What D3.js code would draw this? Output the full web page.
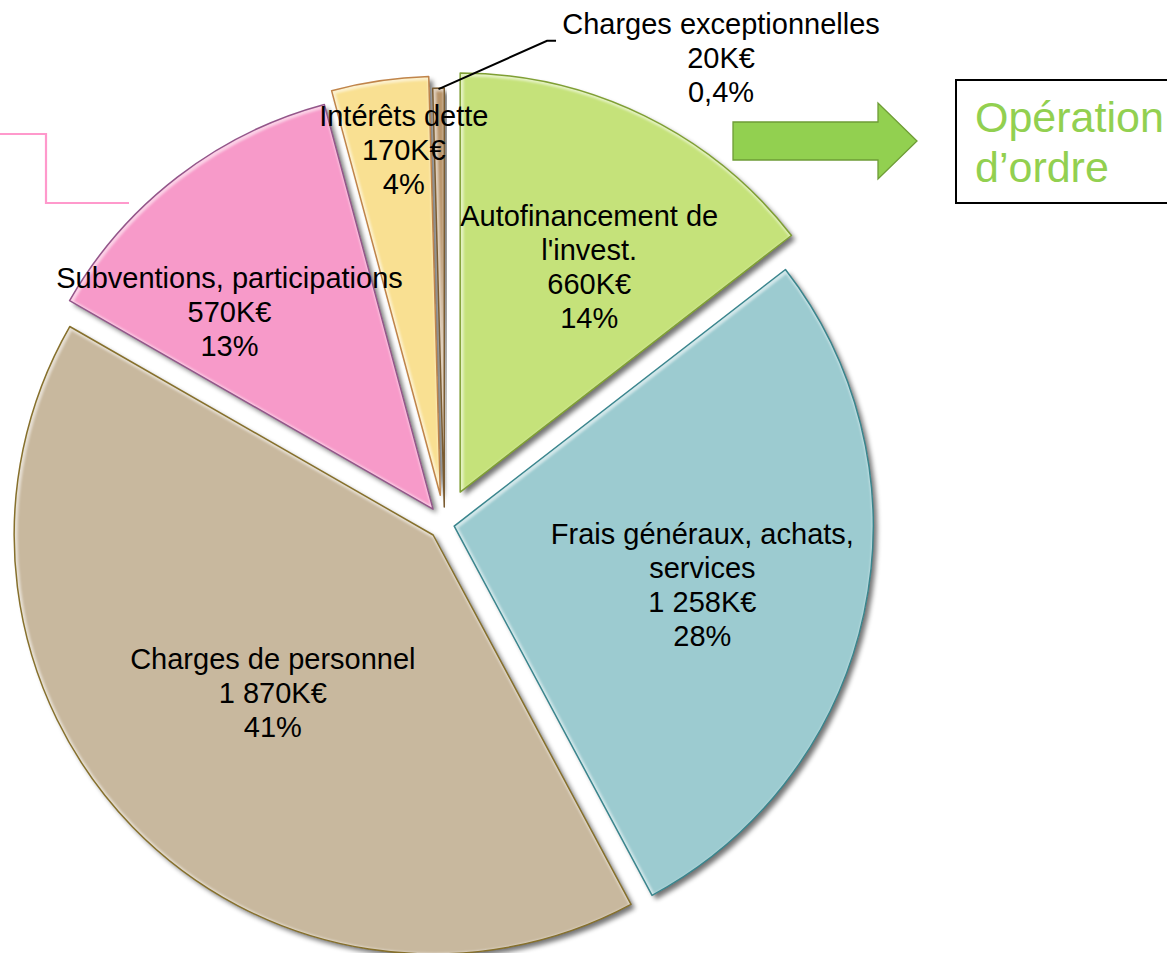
<!DOCTYPE html>
<html><head><meta charset="utf-8">
<script src="https://cdn.jsdelivr.net/npm/d3@7"></script>
<style>body{margin:0;background:#fff;overflow:hidden} svg{display:block;font-family:"Liberation Sans",Arial,Helvetica,sans-serif;}</style>
</head><body><svg id="c" width="1167" height="953"></svg>
<script>
// ---- data ----
const categories = ["Autofinancement de l'invest.", "Frais généraux, achats, services", "Charges de personnel", "Subventions, participations", "Intérêts dette", "Charges exceptionnelles"];
const values = [660, 1258, 1870, 570, 170, 20];
const valueLabels = ["660K€", "1 258K€", "1 870K€", "570K€", "170K€", "20K€"];
const percentLabels = ["14%", "28%", "41%", "13%", "4%", "0,4%"];
const labelLines = [["Autofinancement de", "l'invest."], ["Frais généraux, achats,", "services"], ["Charges de personnel"], ["Subventions, participations"], ["Intérêts dette"], ["Charges exceptionnelles"]];
const sideNote = ["Opération", "d’ordre"];

// ---- style / layout ----
const fills = ["#c5e27a", "#9ccbd0", "#c8b89e", "#f79ac9", "#f9e092", "#b8946a"];
const strokes = ["#7f9f34", "#3a858d", "#86702c", "#93568a", "#c0844a", "#7a5c32"];
const explode = [35.6, 9.9, 15.8, 18.8, 29, 17];
const labelRadius = [295, 265, 241, 302, 376, 542];
const labelAngleShift = [3.25, 1.3, -0.4, -7.8, 2.1, 31.47];
const W = 1167, H = 953, cx = 444.5, cy = 524, R = 419;
const fontSize = 29, lineH = 34;

const svg = d3.select("#c");
const defs = svg.append("defs");
const f = defs.append("filter").attr("id", "sh").attr("x", "-20%").attr("y", "-20%").attr("width", "140%").attr("height", "140%");
f.append("feGaussianBlur").attr("in", "SourceAlpha").attr("stdDeviation", 2.6).attr("result", "b");
f.append("feOffset").attr("in", "b").attr("dx", 4).attr("dy", 4).attr("result", "o");
f.append("feComponentTransfer").attr("in", "o").attr("result", "t").append("feFuncA").attr("type", "linear").attr("slope", 0.55);
const m = f.append("feMerge"); m.append("feMergeNode").attr("in", "t"); m.append("feMergeNode").attr("in", "SourceGraphic");
const fb = defs.append("filter").attr("id", "bl"); fb.append("feGaussianBlur").attr("stdDeviation", 1.1);

const pie = d3.pie().sort(null).value(d => d).startAngle(0).endAngle(2 * Math.PI);
const arcs = pie(values);
const arc = d3.arc().innerRadius(0).outerRadius(R);
const polar = (a, r) => [Math.sin(a) * r, -Math.cos(a) * r];

const g = svg.append("g").attr("transform", `translate(${cx},${cy})`);
arcs.forEach((a, i) => {
  const mid = (a.startAngle + a.endAngle) / 2;
  const [ox, oy] = polar(mid, explode[i]);
  const sg = g.append("g").attr("transform", `translate(${ox},${oy})`);
  const dPath = arc(a);
  defs.append("clipPath").attr("id", "cp" + i).append("path").attr("d", dPath).attr("transform", `translate(${cx + ox},${cy + oy})`);
  sg.append("path").attr("d", dPath).attr("fill", fills[i]).attr("filter", "url(#sh)");
  // bevel highlight
  svg.append("g").attr("clip-path", `url(#cp${i})`)
    .append("path").attr("d", dPath).attr("transform", `translate(${cx + ox + 1.2},${cy + oy + 1.2})`)
    .attr("fill", "none").attr("stroke", "#fff").attr("stroke-opacity", 0.55).attr("stroke-width", 4.5).attr("filter", "url(#bl)");
  svg.append("path").attr("d", dPath).attr("transform", `translate(${cx + ox},${cy + oy})`)
    .attr("fill", "none").attr("stroke", strokes[i]).attr("stroke-width", 1.5).attr("stroke-linejoin", "round");
});

// labels
const lg = svg.append("g").attr("transform", `translate(${cx},${cy})`);
arcs.forEach((a, i) => {
  const mid = (a.startAngle + a.endAngle) / 2 + labelAngleShift[i] * Math.PI / 180;
  const [lx, ly] = polar(mid, labelRadius[i]);
  const lines = labelLines[i].concat([valueLabels[i], percentLabels[i]]);
  const t = lg.append("text").attr("text-anchor", "middle").attr("font-size", fontSize).attr("fill", "#000");
  lines.forEach((s, k) => {
    t.append("tspan").attr("x", lx).attr("y", ly - (lines.length - 1) / 2 * lineH + 10 + k * lineH).text(s);
  });
  if (i === 5) {
    const [sx, sy] = polar((a.startAngle + a.endAngle) / 2, explode[i] + R - 1);
    lg.append("path").attr("d", d3.line()([[sx, sy], [lx - 174, ly - 17], [lx - 165, ly - 17]]))
      .attr("fill", "none").attr("stroke", "#000").attr("stroke-width", 2);
  }
});

// pink connector
svg.append("path").attr("d", d3.line()([[0, 134], [46, 134], [46, 203], [129, 203]]))
  .attr("fill", "none").attr("stroke", "#ff99cc").attr("stroke-width", 2.2);

// arrow
svg.append("path").attr("d", d3.line()([[733, 122], [878, 122], [878, 103], [917, 141], [878, 179], [878, 160], [733, 160]]) + "Z")
  .attr("fill", "#92d050").attr("stroke", "#6e9c36").attr("stroke-width", 1.3);

// box
svg.append("rect").attr("x", 956).attr("y", 80).attr("width", 260).attr("height", 123)
  .attr("fill", "#fff").attr("stroke", "#000").attr("stroke-width", 2);
const bt = svg.append("text").attr("font-size", 43).attr("fill", "#92d050");
sideNote.forEach((s, k) => bt.append("tspan").attr("x", 975).attr("y", 132 + k * 50).text(s));
</script></body></html>
